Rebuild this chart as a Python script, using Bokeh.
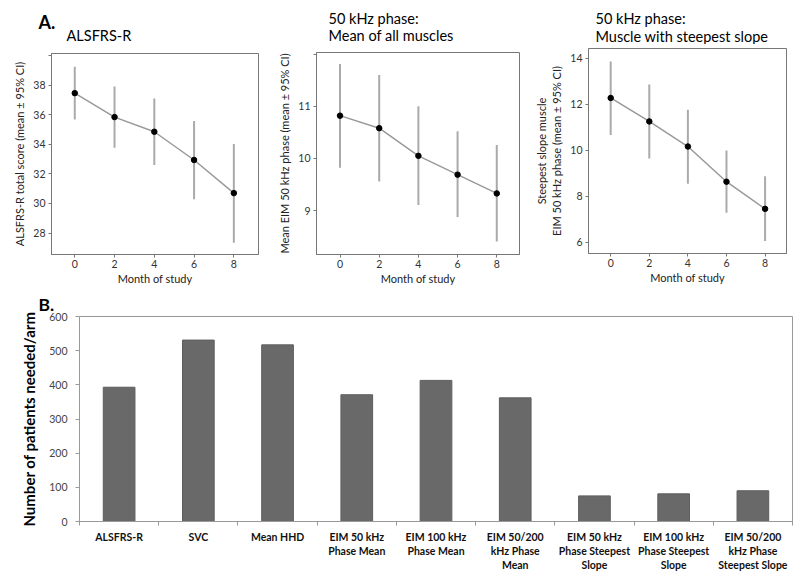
from bokeh.plotting import figure
from bokeh.layouts import column, row
from bokeh.models import FixedTicker, Range1d, Title
from bokeh.core.properties import value
from bokeh.embed import file_html
from bokeh.resources import INLINE

FONT = "Lato"

# ---- Panel A data ----
months = [0, 2, 4, 6, 8]
alsfrs_mean = [37.46, 35.84, 34.85, 32.94, 30.70]
alsfrs_lo = [35.67, 33.77, 32.60, 30.29, 27.35]
alsfrs_hi = [39.24, 37.91, 37.10, 35.57, 34.02]

mean50_mean = [10.82, 10.58, 10.05, 9.69, 9.33]
mean50_lo = [9.82, 9.56, 9.11, 8.88, 8.41]
mean50_hi = [11.81, 11.60, 11.00, 10.52, 10.26]

steep_mean = [12.28, 11.26, 10.17, 8.64, 7.46]
steep_lo = [10.67, 9.65, 8.55, 7.29, 6.06]
steep_hi = [13.87, 12.87, 11.77, 10.00, 8.88]

# ---- Panel B data ----
measures = ["ALSFRS-R", "SVC", "Mean HHD", "EIM 50 kHz\nPhase Mean",
            "EIM 100 kHz\nPhase Mean", "EIM 50/200\nkHz Phase\nMean",
            "EIM 50 kHz\nPhase Steepest\nSlope", "EIM 100 kHz\nPhase Steepest\nSlope",
            "EIM 50/200\nkHz Phase\nSteepest Slope"]
patients = [393, 531, 517, 371, 413, 362, 75, 81, 90]

# ---- headings ----
panel_letters = ["A.", "B."]
titles_a = ["ALSFRS-R", "50 kHz phase:", "Mean of all muscles",
            "50 kHz phase:", "Muscle with steepest slope"]


def heading_fig(height):
    h = figure(width=800, height=height, output_backend="svg", toolbar_location=None,
               x_axis_type=None, y_axis_type=None,
               x_range=Range1d(0, 800), y_range=Range1d(height, 0),
               min_border_left=0, min_border_right=0, min_border_top=0, min_border_bottom=0)
    h.outline_line_color = None
    h.grid.visible = False
    h.background_fill_color = "white"
    h.border_fill_color = "white"
    return h


def put_text(h, xs, ys, texts, size, bold=False):
    h.text(x=xs, y=ys, text=texts, text_font=value(FONT), text_font_size=size,
           text_font_style="bold" if bold else "normal", text_color="black",
           text_baseline="middle", text_align="left")


hA = heading_fig(44)
put_text(hA, [38], [21], [panel_letters[0]], "18px", bold=True)
put_text(hA, [66, 328, 328, 595, 595], [35, 18, 35, 18, 36], titles_a, "14.5px")


def top_panel(width, bl, br, bt, bb, xr, yr, yticks, hidden, ylabel, mean, lo, hi):
    p = figure(width=width, height=243, output_backend="svg", toolbar_location=None,
               title=None, x_range=Range1d(*xr), y_range=Range1d(*yr),
               min_border_left=bl, min_border_right=br, min_border_top=bt, min_border_bottom=bb)
    p.outline_line_color = "#777777"
    p.outline_line_width = 1
    p.xgrid.visible = False
    p.ygrid.visible = False
    p.background_fill_color = "white"
    p.border_fill_color = "white"
    p.xaxis.ticker = FixedTicker(ticks=months)
    p.yaxis.ticker = FixedTicker(ticks=yticks)
    p.yaxis.major_label_overrides = {h: "" for h in hidden}
    p.xaxis.axis_label = "Month of study"
    p.yaxis.axis_label = ylabel
    for ax in (p.xaxis[0], p.yaxis[0]):
        ax.axis_line_color = "#777777"
        ax.major_tick_line_color = "#777777"
        ax.major_tick_in = 0
        ax.major_tick_out = 3
        ax.minor_tick_line_color = None
        ax.minor_tick_out = 0
        ax.major_label_text_font = FONT
        ax.major_label_text_font_size = "10.5px"
        ax.major_label_text_color = "#333333"
        ax.axis_label_text_font = FONT
        ax.axis_label_text_font_size = "11px"
        ax.axis_label_text_font_style = "normal"
        ax.axis_label_text_color = "#222222"
        ax.major_label_standoff = 2
        ax.axis_label_standoff = 1
    p.yaxis.major_label_standoff = 3
    p.yaxis.axis_label_standoff = 4
    p.segment(x0=months, y0=lo, x1=months, y1=hi, line_color="#aaaaaa", line_width=2)
    p.line(months, mean, line_color="#999999", line_width=1.5)
    p.scatter(months, mean, size=5.5, fill_color="black", line_color="black")
    return p


# frame boxes: f1 (51..258, 53..255), f2 (316..519, 52..254), f3 (583..786, 48..253)
f1 = top_panel(266, 51, 8, 9, 32, (-1.17, 9.24), (26.55, 40.14), [28, 30, 32, 34, 36, 38, 40], [40],
               "ALSFRS-R total score (mean \u00b1 95% CI)", alsfrs_mean, alsfrs_lo, alsfrs_hi)
f2 = top_panel(265, 50, 12, 8, 33, (-1.2, 9.16), (8.16, 12.03), [9, 10, 11, 12], [12],
               "Mean EIM 50 kHz phase (mean \u00b1 95% CI)", mean50_mean, mean50_lo, mean50_hi)
f3 = top_panel(269, 52, 14, 4, 34, (-1.15, 9.11), (5.52, 14.43), [6, 8, 10, 12, 14], [],
               "Steepest slope muscle\nEIM 50 kHz phase (mean \u00b1 95% CI)", steep_mean, steep_lo, steep_hi)

# ---- Panel B ----  frame (79..792, 316..521)
xpos = list(range(1, len(measures) + 1))
f4 = figure(width=800, height=288, output_backend="svg", toolbar_location=None, title=None,
            x_range=Range1d(0.5, len(measures) + 0.5), y_range=Range1d(0, 600),
            min_border_left=79, min_border_right=8, min_border_top=29, min_border_bottom=54)
f4.background_fill_color = "white"
f4.border_fill_color = "white"
f4.outline_line_color = "#999999"
f4.xgrid.visible = False
f4.ygrid.visible = False
f4.vbar(x=xpos, top=patients, width=0.4, fill_color="#696969", line_color="#5e5e5e")
f4.xaxis.ticker = FixedTicker(ticks=xpos, minor_ticks=[x - 0.5 for x in xpos] + [len(xpos) + 0.5])
f4.xaxis.major_label_overrides = {x: m for x, m in zip(xpos, measures)}
f4.xaxis.major_tick_line_color = None
f4.xaxis.major_tick_in = 0
f4.xaxis.major_tick_out = 4
f4.xaxis.minor_tick_line_color = "#999999"
f4.xaxis.minor_tick_in = 0
f4.xaxis.minor_tick_out = 4
f4.xaxis.axis_line_color = "#999999"
f4.xaxis.major_label_text_font = FONT
f4.xaxis.major_label_text_font_size = "10.5px"
f4.xaxis.major_label_text_font_style = "bold"
f4.xaxis.major_label_text_color = "#111111"
f4.xaxis.major_label_standoff = 5
f4.yaxis.ticker = FixedTicker(ticks=[0, 100, 200, 300, 400, 500, 600])
f4.yaxis.axis_line_color = "#999999"
f4.yaxis.major_tick_line_color = "#999999"
f4.yaxis.major_tick_in = 0
f4.yaxis.major_tick_out = 4
f4.yaxis.minor_tick_line_color = None
f4.yaxis.major_label_text_font = FONT
f4.yaxis.major_label_text_font_size = "10.5px"
f4.yaxis.major_label_text_color = "#444444"
f4.yaxis.major_label_standoff = 8
f4.yaxis.axis_label = "Number of patients needed/arm"
f4.yaxis.axis_label_text_font = FONT
f4.yaxis.axis_label_text_font_size = "15px"
f4.yaxis.axis_label_text_font_style = "bold"
f4.yaxis.axis_label_text_color = "black"
f4.yaxis.axis_label_standoff = 8
f4.add_layout(Title(text=panel_letters[1], align="left", offset=-41, text_font=FONT,
                    text_font_size="17.5px", text_font_style="bold", text_color="black",
                    standoff=3), "above")

layout = column(row(hA), row(column(f1), column(f2), column(f3), spacing=0), row(f4), spacing=0)
open("out.html", "w").write(file_html(layout, INLINE))
